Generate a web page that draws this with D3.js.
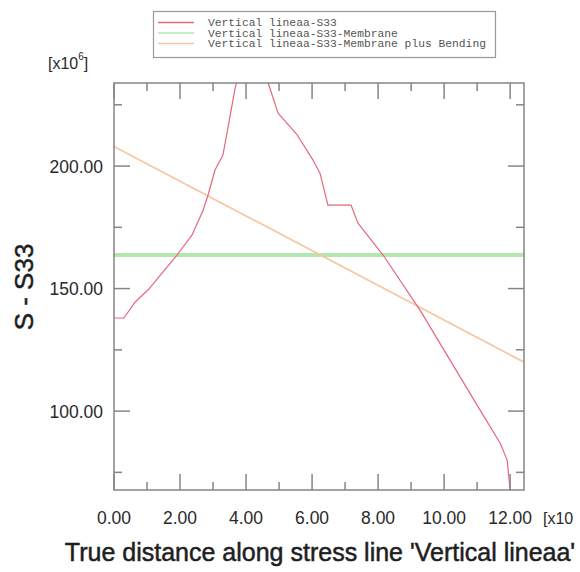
<!DOCTYPE html>
<html>
<head>
<meta charset="utf-8">
<script src="https://cdn.jsdelivr.net/npm/d3@7"></script>
<style>
  body { margin: 0; background: #fff; overflow: hidden; }
  svg { display: block; }
</style>
</head>
<body>
<div id="chart"></div>
<script>
// distance along the line (x10^-1) and stress S33 (x10^6)
const s33X = [0, 0.3, 0.64, 1.03, 1.48, 1.91, 2.36, 2.70, 2.85, 3.06, 3.30, 3.67, 3.9, 4.2, 4.45, 4.67,
              4.97, 5.55, 6.03, 6.24, 6.48, 7.18, 7.39, 8.15, 9.27, 10.18, 11.09, 11.70, 11.91, 12.0];
const s33Y = [138, 138, 144.5, 149.4, 156.7, 163.7, 171.8, 182, 188.2, 198.4, 204.5, 231.8, 245, 252, 245, 233.9,
              221.6, 212.7, 202.4, 197.1, 184.1, 184.1, 176.7, 163.7, 141.2, 120.8, 100.4, 86.9, 80, 67.8];
const membraneX = [0, 12.42];
const membraneY = [163.7, 163.7];
const bendingX = [0, 12.42];
const bendingY = [208, 120];

const legendLabels = [
    'Vertical lineaa-S33',
    'Vertical lineaa-S33-Membrane',
    'Vertical lineaa-S33-Membrane plus Bending'
];
const seriesColors = ['#e4677d', '#b4e6b0', '#f6c8a4'];
const seriesWidths = [1.2, 4, 1.8];

const xMajor = [0, 2, 4, 6, 8, 10, 12];
const xMinor = [1, 3, 5, 7, 9, 11];
const yMajor = [100, 150, 200];
const yMinor = [75, 125, 175, 225];

const W = 580, H = 572;
const frame = { left: 114, right: 524, top: 83, bottom: 490 };

const svg = d3.select('#chart').append('svg')
    .attr('width', W)
    .attr('height', H)
    .style('font-family', 'Liberation Sans, Arial, sans-serif');

svg.append('rect').attr('width', W).attr('height', H).attr('fill', '#fff');

const x = d3.scaleLinear().domain([0, 12.42]).range([frame.left, frame.right]);
const y = d3.scaleLinear().domain([67.8, 233.9]).range([frame.bottom, frame.top]);

const clipId = 'plot-clip';
svg.append('defs').append('clipPath').attr('id', clipId)
    .append('rect')
    .attr('x', frame.left).attr('y', frame.top)
    .attr('width', frame.right - frame.left)
    .attr('height', frame.bottom - frame.top);

// series, drawn membrane first, then bending, then the raw S33 curve
const series = [
    { pts: d3.zip(membraneX, membraneY), k: 1 },
    { pts: d3.zip(bendingX, bendingY), k: 2 },
    { pts: d3.zip(s33X, s33Y), k: 0 }
];
const line = d3.line().x(d => x(d[0])).y(d => y(d[1]));
const plot = svg.append('g').attr('clip-path', `url(#${clipId})`);
series.forEach(s => {
    plot.append('path')
        .attr('d', line(s.pts))
        .attr('fill', 'none')
        .attr('stroke', seriesColors[s.k])
        .attr('stroke-width', seriesWidths[s.k])
        .attr('stroke-linejoin', 'round');
});

// axes: ticks pointing inward on all four sides
const axisColor = '#858585';
const bigTick = 16, smallTick = 8;
const axes = svg.append('g').attr('stroke', axisColor).attr('stroke-width', 1.5);

axes.append('rect')
    .attr('x', frame.left).attr('y', frame.top)
    .attr('width', frame.right - frame.left)
    .attr('height', frame.bottom - frame.top)
    .attr('fill', 'none');

const xTicks = xMajor.map(v => ({ v, len: bigTick })).concat(xMinor.map(v => ({ v, len: smallTick })));
const yTicks = yMajor.map(v => ({ v, len: bigTick })).concat(yMinor.map(v => ({ v, len: smallTick })));

axes.selectAll('line.xb').data(xTicks).join('line')
    .attr('x1', d => x(d.v)).attr('x2', d => x(d.v))
    .attr('y1', frame.bottom).attr('y2', d => frame.bottom - d.len);
axes.selectAll('line.xt').data(xTicks).join('line')
    .attr('x1', d => x(d.v)).attr('x2', d => x(d.v))
    .attr('y1', frame.top).attr('y2', d => frame.top + d.len);
axes.selectAll('line.yl').data(yTicks).join('line')
    .attr('y1', d => y(d.v)).attr('y2', d => y(d.v))
    .attr('x1', frame.left).attr('x2', d => frame.left + d.len);
axes.selectAll('line.yr').data(yTicks).join('line')
    .attr('y1', d => y(d.v)).attr('y2', d => y(d.v))
    .attr('x1', frame.right).attr('x2', d => frame.right - d.len);

// tick labels
const labelColor = '#2a2a2a';
svg.append('g').selectAll('text').data(xMajor).join('text')
    .attr('x', d => x(d)).attr('y', 523.5)
    .attr('text-anchor', 'middle')
    .attr('font-size', 17.5)
    .attr('fill', labelColor)
    .text(d => d.toFixed(2));

svg.append('g').selectAll('text').data(yMajor).join('text')
    .attr('x', 103).attr('y', d => y(d) + 6.5)
    .attr('text-anchor', 'end')
    .attr('font-size', 17.5)
    .attr('fill', labelColor)
    .text(d => d.toFixed(2));

// multipliers (the x one is only partly visible in the original, at the right edge)
const yMult = svg.append('text').attr('x', 48).attr('y', 69)
    .attr('font-size', 16).attr('fill', labelColor);
yMult.append('tspan').text('[x10');
yMult.append('tspan').attr('dy', -9).attr('font-size', 10).text('6');
yMult.append('tspan').attr('dy', 9).text(']');

svg.append('text').attr('x', 543).attr('y', 523.5)
    .attr('font-size', 16).attr('fill', labelColor)
    .text('[x10');

// axis titles
svg.append('text')
    .attr('x', 320).attr('y', 561)
    .attr('text-anchor', 'middle')
    .attr('font-size', 25)
    .attr('fill', '#1e1e1e')
    .attr('stroke', '#1e1e1e')
    .attr('stroke-width', 0.5)
    .text("True distance along stress line 'Vertical lineaa'");

svg.append('text')
    .attr('transform', 'translate(33, 287) rotate(-90)')
    .attr('text-anchor', 'middle')
    .attr('font-size', 26)
    .attr('fill', '#1e1e1e')
    .attr('stroke', '#1e1e1e')
    .attr('stroke-width', 0.5)
    .text('S - S33');

// legend
const legend = svg.append('g');
legend.append('rect')
    .attr('x', 153.5).attr('y', 11.5)
    .attr('width', 342).attr('height', 46)
    .attr('fill', '#fff')
    .attr('stroke', '#999')
    .attr('stroke-width', 1.2);
legendLabels.forEach((label, i) => {
    const ly = 22.5 + i * 10.5;
    legend.append('line')
        .attr('x1', 158).attr('x2', 194)
        .attr('y1', ly).attr('y2', ly)
        .attr('stroke', seriesColors[i])
        .attr('stroke-width', 1.3);
    legend.append('text')
        .attr('x', 208).attr('y', ly + 3.5)
        .attr('font-family', 'Liberation Mono, DejaVu Sans Mono, monospace')
        .attr('font-size', 11.3)
        .attr('fill', '#555')
        .text(label);
});
</script>
</body>
</html>
